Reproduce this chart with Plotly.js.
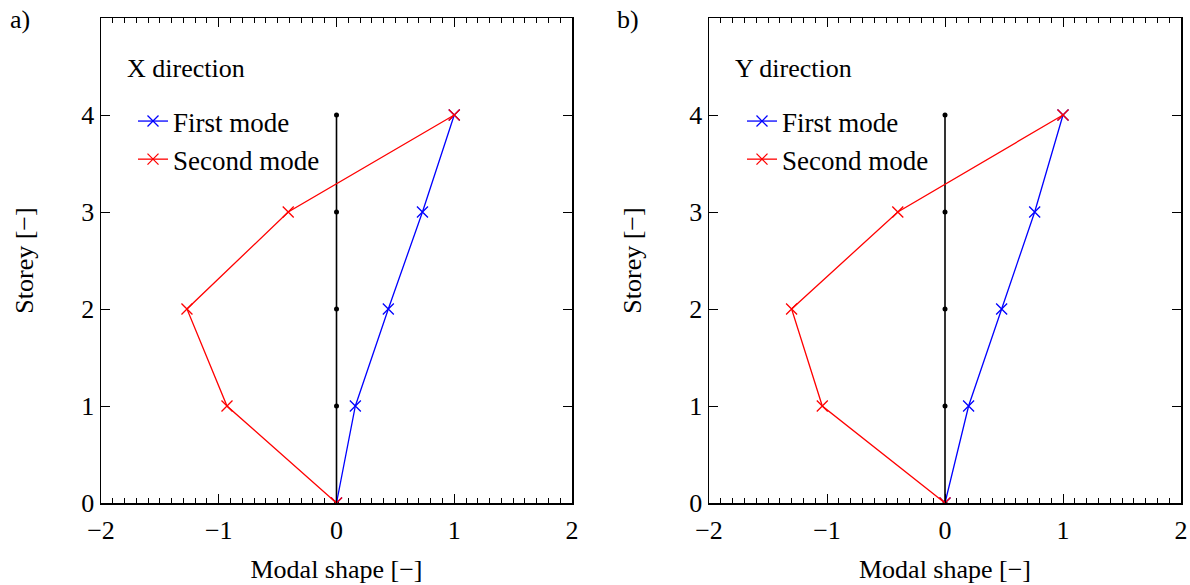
<!DOCTYPE html>
<html>
<head>
<meta charset="utf-8">
<script src="https://cdn.plot.ly/plotly-3.0.1.min.js"></script>
<style>html,body{margin:0;padding:0;background:#fff;}#chart{width:1190px;height:585px;}</style>
</head>
<body>
<div id="chart"></div>
<script>
// Data
const storeys = [0, 1, 2, 3, 4];
const undeformed = [0, 0, 0, 0, 0];
const xFirstMode = [0, 0.16, 0.44, 0.73, 1.0];
const xSecondMode = [0, -0.93, -1.27, -0.41, 1.0];
const yFirstMode = [0, 0.20, 0.48, 0.76, 1.0];
const ySecondMode = [0, -1.04, -1.30, -0.40, 1.0];
const seriesNames = ['First mode', 'Second mode'];
const panelLabels = ['a)', 'b)'];
const panelTitles = ['X direction', 'Y direction'];
const xTickVals = [-2, -1, 0, 1, 2];
const yTickVals = [0, 1, 2, 3, 4];

const FONT = 'Liberation Serif, Times New Roman, serif';
const BLUE = '#0000ff', RED = '#ff0000';

function modeTrace(x, name, color, xa, ya, leg, showleg) {
  return {
    x: x, y: storeys, name: name, type: 'scatter', mode: 'lines+markers',
    xaxis: xa, yaxis: ya, legend: leg, showlegend: showleg,
    line: {color: color, width: 1.3},
    marker: {symbol: 'x-thin', size: 11, color: color, line: {color: color, width: 1.3}}
  };
}
function baseTrace(xa, ya) {
  return {
    x: undeformed, y: storeys, type: 'scatter', mode: 'lines+markers',
    xaxis: xa, yaxis: ya, showlegend: false, hoverinfo: 'skip',
    line: {color: '#000', width: 1.6},
    marker: {symbol: 'circle', size: 5, color: '#000'}
  };
}

const data = [
  baseTrace('x', 'y'),
  modeTrace(xFirstMode, seriesNames[0], BLUE, 'x', 'y', 'legend', true),
  modeTrace(xSecondMode, seriesNames[1], RED, 'x', 'y', 'legend', true),
  baseTrace('x2', 'y2'),
  modeTrace(yFirstMode, seriesNames[0], BLUE, 'x2', 'y2', 'legend2', true),
  modeTrace(ySecondMode, seriesNames[1], RED, 'x2', 'y2', 'legend2', true)
];

function xAxis(domain, anchor) {
  return {
    domain: domain, anchor: anchor, range: [-2, 2], tickvals: xTickVals,
    showgrid: false, zeroline: false, showline: true, mirror: 'allticks',
    linecolor: '#000', linewidth: 1.5, ticks: 'inside', ticklen: 9, tickwidth: 1, tickcolor: '#000',
    minor: {dtick: 0.1, tick0: 0, ticks: 'inside', ticklen: 5, tickwidth: 1, tickcolor: '#000', showgrid: false},
    tickfont: {family: FONT, size: 26, color: '#000'}, ticklabelstandoff: 3,
    title: {text: 'Modal shape [−]', font: {family: FONT, size: 26, color: '#000'}, standoff: 16},
    automargin: false, fixedrange: true
  };
}
function yAxis(domain, anchor) {
  return {
    domain: domain, anchor: anchor, range: [0, 5], tickvals: yTickVals,
    showgrid: false, zeroline: false, showline: true, mirror: 'allticks',
    linecolor: '#000', linewidth: 1.5, ticks: 'inside', ticklen: 9, tickwidth: 1, tickcolor: '#000',
    tickfont: {family: FONT, size: 26, color: '#000'},
    title: {text: 'Storey [−]', font: {family: FONT, size: 26, color: '#000'}, standoff: 40},
    automargin: false, fixedrange: true
  };
}

const W = 1190, H = 585;
const yDom = [1 - 503 / H, 1 - 18 / H];

const legendStyle = (xpx) => ({
  x: xpx / W, y: 1 - 97 / H, xanchor: 'left', yanchor: 'top',
  bgcolor: 'rgba(0,0,0,0)', borderwidth: 0,
  font: {family: FONT, size: 27, color: '#000'}, tracegroupgap: 0
});

const layout = {
  width: W, height: H,
  margin: {l: 0, r: 0, t: 0, b: 0},
  paper_bgcolor: '#fff', plot_bgcolor: '#fff',
  font: {family: FONT, size: 26, color: '#000'},
  xaxis: xAxis([101 / W, 572 / W], 'y'),
  yaxis: yAxis(yDom, 'x'),
  xaxis2: xAxis([709 / W, 1181 / W], 'y2'),
  yaxis2: yAxis(yDom, 'x2'),
  legend: legendStyle(133),
  legend2: legendStyle(742),
  annotations: [
    {text: panelLabels[0], xref: 'paper', yref: 'paper', x: 8 / W, y: 1 - 20 / H, xanchor: 'left', yanchor: 'middle', showarrow: false, font: {family: FONT, size: 26}},
    {text: panelLabels[1], xref: 'paper', yref: 'paper', x: 615 / W, y: 1 - 20 / H, xanchor: 'left', yanchor: 'middle', showarrow: false, font: {family: FONT, size: 26}},
    {text: panelTitles[0], xref: 'paper', yref: 'paper', x: 125 / W, y: 1 - 68 / H, xanchor: 'left', yanchor: 'middle', showarrow: false, font: {family: FONT, size: 26}},
    {text: panelTitles[1], xref: 'paper', yref: 'paper', x: 733 / W, y: 1 - 68 / H, xanchor: 'left', yanchor: 'middle', showarrow: false, font: {family: FONT, size: 26}}
  ]
};

Plotly.newPlot('chart', data, layout, {staticPlot: true, displayModeBar: false});
</script>
</body>
</html>
